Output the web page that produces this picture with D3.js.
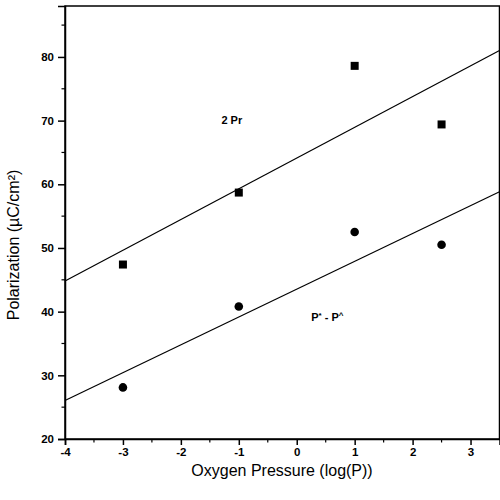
<!DOCTYPE html>
<html><head><meta charset="utf-8">
<script src="https://cdn.jsdelivr.net/npm/d3@7"></script>
<style>body{margin:0;background:#fff}svg{display:block}</style>
</head><body>
<svg id="c" width="500" height="500"></svg>
<script>
const xVals = [-3, -1, 1, 2.5];
const prVals = [47.4, 58.7, 78.6, 69.4];      // 2 Pr (squares)
const pdVals = [28.1, 40.8, 52.5, 50.5];      // P* - P^ (circles)
const xTicks = [-4, -3, -2, -1, 0, 1, 2, 3];
const yTicks = [20, 30, 40, 50, 60, 70, 80];
const xDomain = [-4, 3.5];
const yDomain = [20, 88];

const svg = d3.select("#c");
const m = {l: 65, r: 0.5, t: 6, b: 61};
const W = 500, H = 500;
const x = d3.scaleLinear().domain(xDomain).range([m.l, W - m.r]);
const y = d3.scaleLinear().domain(yDomain).range([H - m.b, m.t]);
const font = "'Liberation Sans', Arial, sans-serif";

function fit(xs, ys) {
  const mx = d3.mean(xs), my = d3.mean(ys);
  let sxy = 0, sxx = 0;
  xs.forEach((v, i) => { sxy += (v - mx) * (ys[i] - my); sxx += (v - mx) ** 2; });
  const b = sxy / sxx;
  return v => my + b * (v - mx);
}

// frame
svg.append("rect").attr("x", x(xDomain[0])).attr("y", y(yDomain[1]))
  .attr("width", x(xDomain[1]) - x(xDomain[0])).attr("height", y(yDomain[0]) - y(yDomain[1]))
  .attr("fill", "none").attr("stroke", "#000").attr("stroke-width", 1.5);

// axes
const xAxis = d3.axisBottom(x).tickValues(xTicks).tickFormat(d => String(d)).tickSize(6).tickPadding(3);
const gx = svg.append("g").attr("transform", `translate(0,${y(yDomain[0])})`).call(xAxis);
gx.select(".domain").attr("stroke-width", 1.5);
gx.selectAll(".tick line").attr("stroke-width", 1.5);
gx.selectAll("text").attr("font-family", font).attr("font-size", 11.5).attr("font-weight", "bold").attr("fill", "#000");
const xMinor = d3.range(-3.5, 3.5, 1);
svg.append("g").selectAll("line").data(xMinor).join("line")
  .attr("x1", d => x(d)).attr("x2", d => x(d))
  .attr("y1", y(yDomain[0])).attr("y2", y(yDomain[0]) + 3.5)
  .attr("stroke", "#000").attr("stroke-width", 1.2);

const yAxis = d3.axisLeft(y).tickValues(yTicks).tickFormat(d => String(d)).tickSize(7).tickPadding(4);
const gy = svg.append("g").attr("transform", `translate(${x(xDomain[0])},0)`).call(yAxis);
gy.select(".domain").attr("stroke-width", 1.5);
gy.selectAll(".tick line").attr("stroke-width", 1.5);
gy.selectAll("text").attr("font-family", font).attr("font-size", 11.5).attr("font-weight", "bold").attr("fill", "#000");
const yMinor = d3.range(25, 88, 10);
svg.append("g").selectAll("line").data(yMinor).join("line")
  .attr("x1", x(xDomain[0]) - 3.5).attr("x2", x(xDomain[0]))
  .attr("y1", d => y(d)).attr("y2", d => y(d))
  .attr("stroke", "#000").attr("stroke-width", 1.2);

// fit lines
[[prVals], [pdVals]].forEach(([ys]) => {
  const f = fit(xVals, ys);
  svg.append("line")
    .attr("x1", x(xDomain[0])).attr("y1", y(f(xDomain[0])))
    .attr("x2", x(xDomain[1])).attr("y2", y(f(xDomain[1])))
    .attr("stroke", "#000").attr("stroke-width", 1.2);
});

// markers
svg.append("g").selectAll("rect").data(xVals).join("rect")
  .attr("x", (d) => x(d) - 4).attr("y", (d, i) => y(prVals[i]) - 4)
  .attr("width", 8).attr("height", 8).attr("fill", "#000");
svg.append("g").selectAll("circle").data(xVals).join("circle")
  .attr("cx", d => x(d)).attr("cy", (d, i) => y(pdVals[i]))
  .attr("r", 4.3).attr("fill", "#000");

// annotations
svg.append("text").attr("x", x(-1.3)).attr("y", y(69.5)).attr("font-family", font)
  .attr("font-size", 11).attr("font-weight", "bold").text("2 Pr");
const t = svg.append("text").attr("x", x(0.25)).attr("y", y(38.6)).attr("font-family", font)
  .attr("font-size", 11).attr("font-weight", "bold");
t.append("tspan").text("P");
t.append("tspan").attr("font-size", 8).attr("dy", -3).text("*");
t.append("tspan").attr("dy", 3).text(" - P");
t.append("tspan").attr("font-size", 8).attr("dy", -3).text("^");

// axis titles
svg.append("text").attr("x", 282).attr("y", 476)
  .attr("text-anchor", "middle").attr("font-family", font).attr("font-size", 16)
  .text("Oxygen Pressure (log(P))");
svg.append("text").attr("transform", `translate(19,245) rotate(-90)`)
  .attr("text-anchor", "middle").attr("font-family", font).attr("font-size", 16)
  .text("Polarization (µC/cm²)");
</script>
</body></html>
